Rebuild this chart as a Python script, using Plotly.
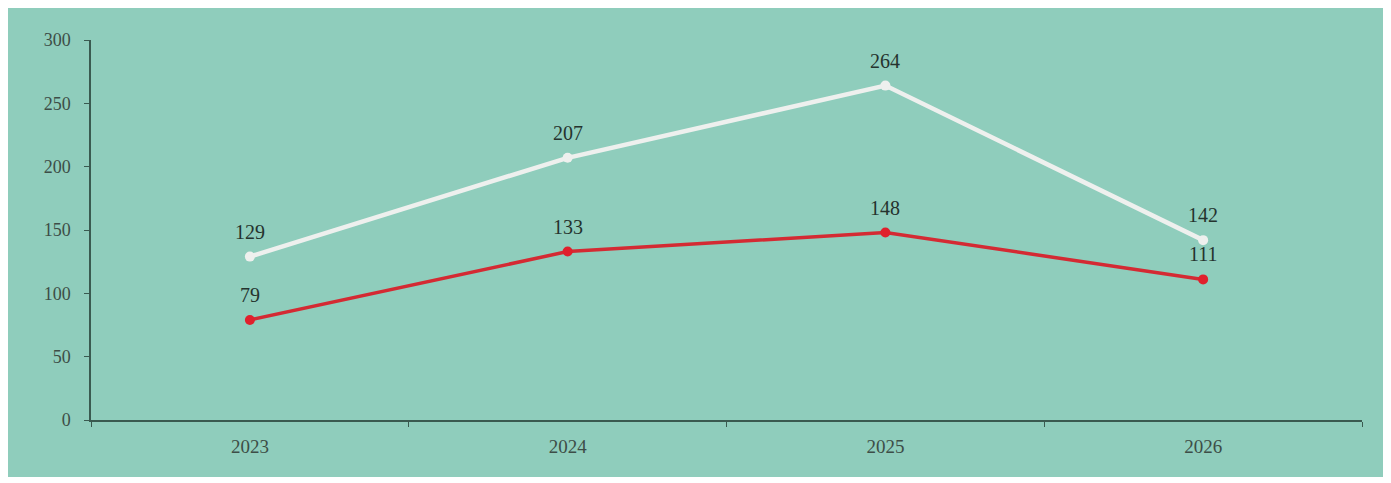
import plotly.graph_objects as go

years = ["2023", "2024", "2025", "2026"]
series_white = [129, 207, 264, 142]
series_red = [79, 133, 148, 111]
y_ticks = [0, 50, 100, 150, 200, 250, 300]

# page has an 8px body margin, so the figure is sized/offset accordingly
W, H = 1383, 475
ml, mr, mt, mb = 83, 29, 32, 63
pw, ph = W - ml - mr, H - mt - mb

teal = "rgb(143,205,188)"
axis_col = "#3a5a50"
tick_col = "#3d4d47"
label_col = "#25332e"
font_fam = "Liberation Serif, Times New Roman, serif"

fig = go.Figure()
fig.add_trace(go.Scatter(
    x=years, y=series_white, mode="lines+markers",
    line=dict(color="#eef0ee", width=4.5),
    marker=dict(color="#eef0ee", size=10),
    cliponaxis=False, showlegend=False,
))
fig.add_trace(go.Scatter(
    x=years, y=series_red, mode="lines+markers",
    line=dict(color="#d42a33", width=3.5),
    marker=dict(color="#e0202c", size=10),
    cliponaxis=False, showlegend=False,
))

for series in (series_white, series_red):
    for i, yv in enumerate(series):
        fig.add_annotation(x=i, y=yv, xref="x", yref="y", text=str(yv), showarrow=False,
                           yshift=25, yanchor="middle",
                           font=dict(family=font_fam, size=20, color=label_col))

fig.add_shape(type="rect", xref="paper", yref="paper",
              x0=(0 - ml) / pw, x1=(1377 - ml) / pw,
              y0=(H - mb - 469) / ph, y1=(H - mb - 0) / ph,
              fillcolor=teal, line=dict(width=0), layer="below")

fig.update_layout(
    width=W, height=H,
    margin=dict(l=ml, r=mr, t=mt, b=mb),
    paper_bgcolor="white", plot_bgcolor="rgba(0,0,0,0)",
    font=dict(family=font_fam, size=18, color=tick_col),
    xaxis=dict(type="category", range=[-0.5, 3.5], showline=True, linecolor=axis_col,
               linewidth=1.5, ticks="outside", tickson="boundaries", ticklen=5,
               tickcolor=axis_col, showgrid=False, zeroline=False, ticklabelstandoff=8,
               tickfont=dict(family=font_fam, size=19, color=tick_col)),
    yaxis=dict(range=[0, 300], tickvals=y_ticks, showline=True, linecolor=axis_col,
               linewidth=1.5, ticks="outside", ticklen=5, tickcolor=axis_col,
               showgrid=False, zeroline=False, ticklabelstandoff=10,
               tickfont=dict(family=font_fam, size=18, color=tick_col)),
)

fig.write_html("out.html")
